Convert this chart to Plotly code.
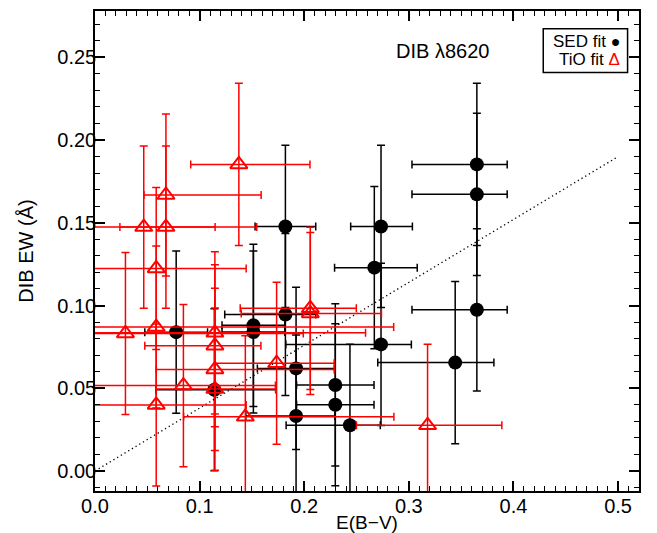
import plotly.graph_objects as go

# SED fit (black filled circles)
sed_x = [0.0776, 0.1141, 0.1514, 0.1514, 0.182, 0.182, 0.1922, 0.1922, 0.2297,
         0.2297, 0.2437, 0.267, 0.2734, 0.2734, 0.3443, 0.365, 0.365, 0.365]
sed_y = [0.0839, 0.0491, 0.088, 0.084, 0.1478, 0.0946, 0.062, 0.0332, 0.052,
         0.040, 0.0276, 0.1229, 0.1478, 0.0765, 0.0655, 0.1853, 0.1672, 0.0974]
sed_xminus = [0.030, 0.056, 0.030, 0.030, 0.029, 0.058, 0.037, 0.048, 0.037,
              0.037, 0.061, 0.038, 0.029, 0.091, 0.074, 0.062, 0.062, 0.062]
sed_xplus = [0.030, 0.059, 0.030, 0.030, 0.029, 0.029, 0.037, 0.037, 0.037,
             0.037, 0.029, 0.041, 0.030, 0.029, 0.037, 0.029, 0.029, 0.029]
sed_yerr = [0.049] * 18

# TiO fit (red open triangles)
tio_x = [0.0291, 0.0466, 0.0678, 0.0678, 0.1375, 0.0585, 0.0585, 0.1146, 0.1146,
         0.1146, 0.1146, 0.0585, 0.0845, 0.1437, 0.1736, 0.2058, 0.2058, 0.3179]
tio_y = [0.0831, 0.1474, 0.1474, 0.1668, 0.1853, 0.1224, 0.087, 0.0835, 0.0757,
         0.0614, 0.0495, 0.0399, 0.0516, 0.0327, 0.0651, 0.0983, 0.0952, 0.0276]
tio_xminus = [0.060, 0.080, 0.044, 0.021, 0.046, 0.090, 0.090, 0.120, 0.067,
              0.056, 0.056, 0.090, 0.100, 0.059, 0.059, 0.067, 0.066, 0.068]
tio_xplus = [0.170, 0.108, 0.047, 0.091, 0.068, 0.086, 0.227, 0.144, 0.044,
             0.114, 0.058, 0.086, 0.088, 0.142, 0.055, 0.044, 0.068, 0.071]
tio_yerr = [0.049] * 18

# dotted reference line
line_x = [0.0, 0.5]
line_y = [0.0, 0.19]

FONT = "Liberation Sans, Arial, sans-serif"

fig = go.Figure()

fig.add_trace(go.Scatter(
    x=line_x, y=line_y, mode="lines",
    line=dict(color="black", width=1.3, dash="1.3px,3px"),
    showlegend=False, hoverinfo="skip"))

fig.add_trace(go.Scatter(
    x=sed_x, y=sed_y, mode="markers", name="SED fit",
    marker=dict(symbol="circle", size=14, color="black"),
    error_x=dict(type="data", symmetric=False, array=sed_xplus, arrayminus=sed_xminus,
                 color="black", thickness=1.5, width=4),
    error_y=dict(type="data", array=sed_yerr, color="black", thickness=1.5, width=4),
    showlegend=False))

fig.add_trace(go.Scatter(
    x=tio_x, y=tio_y, mode="markers", name="TiO fit",
    marker=dict(symbol="triangle-up-open", size=15, color="red", line=dict(width=2, color="red")),
    error_x=dict(type="data", symmetric=False, array=tio_xplus, arrayminus=tio_xminus,
                 color="red", thickness=1.5, width=4),
    error_y=dict(type="data", array=tio_yerr, color="red", thickness=1.5, width=4),
    showlegend=False))

axis_common = dict(
    showline=True, linecolor="black", linewidth=1.5, mirror="allticks",
    ticks="inside", ticklen=10, tickwidth=1.5, tickcolor="black",
    showgrid=False, zeroline=False, automargin=False,
    tickfont=dict(family=FONT, size=20, color="black"),
)

fig.update_xaxes(
    range=[0, 0.52], dtick=0.1, tick0=0, tickformat=".1f", ticklabelstandoff=-4,
    minor=dict(ticks="inside", ticklen=5, dtick=0.01, tickwidth=1.2, tickcolor="black", showgrid=False),
    title=dict(text="E(B\u2212V)", font=dict(family=FONT, size=19, color="black"), standoff=0),
    **axis_common)
fig.update_yaxes(
    range=[-0.0121, 0.278], dtick=0.05, tick0=0, tickformat=".2f", ticklabelstandoff=-7,
    minor=dict(ticks="inside", ticklen=5, dtick=0.01, tickwidth=1.2, tickcolor="black", showgrid=False),
    title=dict(text="DIB EW (\u00c5)", font=dict(family=FONT, size=20, color="black"), standoff=18),
    **axis_common)

fig.add_annotation(text="DIB \u03bb8620", xref="paper", yref="paper", x=0.639, y=0.943,
                   showarrow=False, font=dict(family=FONT, size=20, color="black"))

fig.add_shape(type="rect", xref="paper", yref="paper", x0=0.824, x1=0.979, y0=0.872, y1=0.963,
              line=dict(color="black", width=1.5), layer="below")
fig.add_annotation(text="SED fit <span style='font-size:16px'>\u25cf</span>", xref="paper", yref="paper",
                   x=0.968, y=0.937, xanchor="right", yanchor="middle", showarrow=False,
                   font=dict(family=FONT, size=17, color="black"))
fig.add_annotation(text="TiO fit <span style='color:red'>\u0394</span>", xref="paper", yref="paper",
                   x=0.968, y=0.898, xanchor="right", yanchor="middle", showarrow=False,
                   font=dict(family=FONT, size=17, color="black"))

# page body has an 8px margin, so the figure is sized to fit the 657x533 window
fig.update_layout(
    width=649, height=525,
    margin=dict(l=87, r=18, t=3, b=42),
    paper_bgcolor="white", plot_bgcolor="white",
    font=dict(family=FONT, color="black"),
)

fig.write_html("out.html")
